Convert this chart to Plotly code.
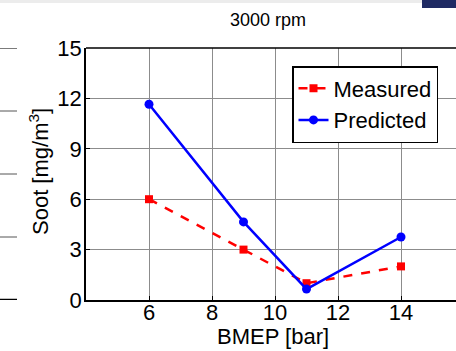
import plotly.graph_objects as go

# Soot emissions at 3000 rpm versus engine load
bmep = [6, 9, 11, 14]
soot_measured = [6.0, 3.0, 1.0, 2.0]
soot_predicted = [11.65, 4.65, 0.65, 3.75]

x_ticks = [6, 8, 10, 12, 14]
y_ticks = [0, 3, 6, 9, 12, 15]

W, H = 456, 351
L, R, T, B = 86, 0, 48, 51
pw, ph = W - L - R, H - T - B


def px(x):
    return (x - L) / pw


def py(y):
    return (H - B - y) / ph


font = "Arial, Liberation Sans, Helvetica, sans-serif"

fig = go.Figure()
fig.add_trace(go.Scatter(
    x=bmep, y=soot_measured, name="Measured", mode="lines+markers",
    line=dict(color="#ff0000", width=2.5, dash="dash"),
    marker=dict(symbol="square", size=8, color="#ff0000"),
))
fig.add_trace(go.Scatter(
    x=bmep, y=soot_predicted, name="Predicted", mode="lines+markers",
    line=dict(color="#0000ff", width=2.5),
    marker=dict(symbol="circle", size=9, color="#0000ff"),
))

axis_common = dict(
    showgrid=True, gridcolor="#8c8c8c", gridwidth=1,
    showline=True, linecolor="black", linewidth=1.5,
    ticks="inside", ticklen=4, tickcolor="black",
    zeroline=False, tickfont=dict(size=22, color="black", family=font),
)

fig.update_layout(
    width=W, height=H,
    margin=dict(l=L, r=R, t=T, b=B),
    paper_bgcolor="white", plot_bgcolor="white",
    font=dict(family=font, color="black"),
    showlegend=True,
    legend=dict(
        x=px(292), y=py(66), xanchor="left", yanchor="top",
        bordercolor="black", borderwidth=1.5, bgcolor="white",
        font=dict(size=22, color="black", family=font),
        tracegroupgap=0, itemwidth=30,
    ),
    xaxis=dict(
        range=[4, 4 + pw / 31.5], tickvals=x_ticks, ticklabelstandoff=-8,
        **axis_common,
    ),
    yaxis=dict(
        range=[0, 15], tickvals=y_ticks, ticklabelstandoff=-2,
        **axis_common,
    ),
    annotations=[
        dict(text="3000 rpm", x=px(268), y=py(20), xref="paper", yref="paper",
             showarrow=False, font=dict(size=18, color="black", family=font),
             xanchor="center", yanchor="middle"),
        dict(text="BMEP [bar]", x=px(273), y=py(336), xref="paper", yref="paper",
             showarrow=False, font=dict(size=22, color="black", family=font),
             xanchor="center", yanchor="middle"),
        dict(text="Soot [mg/m<sup>3</sup>]", x=px(39), y=py(172), xref="paper", yref="paper",
             showarrow=False, textangle=-90, font=dict(size=22, color="black", family=font),
             xanchor="center", yanchor="middle"),
    ],
)

shapes = []
# top frame edge
shapes.append(dict(type="line", xref="paper", yref="paper", x0=0, x1=1, y0=1, y1=1,
                   line=dict(color="black", width=1.5)))
# edge of the neighbouring panel on the left
for yv, w, c in [(15, 1.2, "#222"), (11.25, 1, "#555"), (7.5, 1, "#555"),
                 (3.75, 1, "#555"), (0, 2.5, "black")]:
    shapes.append(dict(type="line", xref="paper", yref="y", x0=px(0), x1=px(17),
                       y0=yv, y1=yv, line=dict(color=c, width=w)))
# page header strip
shapes.append(dict(type="rect", xref="paper", yref="paper", x0=px(0), x1=px(456),
                   y0=py(3), y1=py(0), fillcolor="#ececec", line=dict(width=0), layer="below"))
shapes.append(dict(type="rect", xref="paper", yref="paper", x0=px(422), x1=px(456),
                   y0=py(8), y1=py(0), fillcolor="#1f2a63", line=dict(width=0)))
fig.update_layout(shapes=shapes)

fig.write_html("out.html")
